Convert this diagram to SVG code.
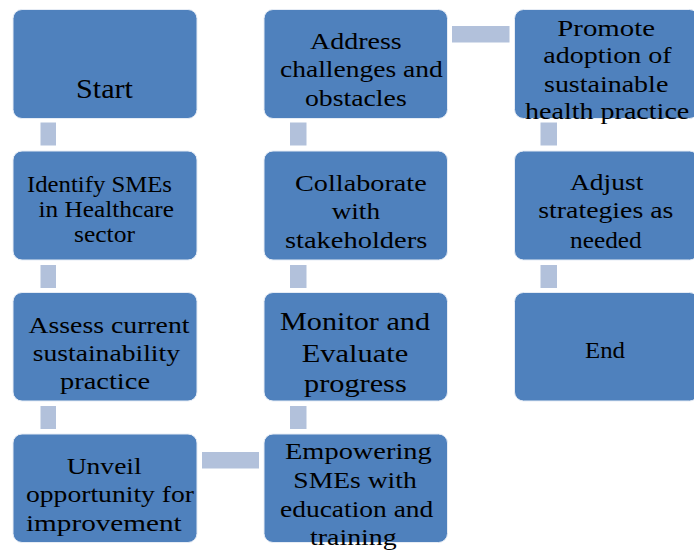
<svg xmlns="http://www.w3.org/2000/svg" width="694" height="554" viewBox="0 0 694 554">
<style>
.box{fill:#4F81BD;stroke:#E6ECF5;stroke-width:1}
.con{fill:#B2C1DB}
text{font-family:"Liberation Serif","Times New Roman",serif;font-size:24px;fill:#000}
</style>
<rect width="694" height="554" fill="#fff"/>
<g id="connectors">
<rect class="con" x="40.5" y="122.5" width="15.5" height="23"/>
<rect class="con" x="40.5" y="265" width="15.5" height="23"/>
<rect class="con" x="40.5" y="406" width="15.5" height="23"/>
<rect class="con" x="202" y="452" width="57" height="16.5"/>
<rect class="con" x="290" y="406" width="16.5" height="23"/>
<rect class="con" x="290" y="265" width="16.5" height="23"/>
<rect class="con" x="290" y="122.5" width="16.5" height="23"/>
<rect class="con" x="452" y="26" width="57.5" height="16.5"/>
<rect class="con" x="540.5" y="122.5" width="16.5" height="23"/>
<rect class="con" x="540.5" y="265" width="16.5" height="23"/>
</g>
<g id="n1"><rect class="box" x="13" y="9.5" width="184" height="109" rx="9"/>
<text x="76" y="97.5" style="font-size:27px" textLength="57" lengthAdjust="spacingAndGlyphs">Start</text></g>
<g id="n2"><rect class="box" x="13" y="151" width="184" height="109" rx="9"/>
<text x="27" y="191.7" textLength="145" lengthAdjust="spacingAndGlyphs">Identify SMEs</text>
<text x="38.5" y="216.7" textLength="135.5" lengthAdjust="spacingAndGlyphs">in Healthcare</text>
<text x="74" y="242" textLength="61" lengthAdjust="spacingAndGlyphs">sector</text></g>
<g id="n3"><rect class="box" x="13" y="292.5" width="184" height="108.5" rx="9"/>
<text x="28.5" y="333.3" textLength="161" lengthAdjust="spacingAndGlyphs">Assess current</text>
<text x="32.7" y="360.7" textLength="147.3" lengthAdjust="spacingAndGlyphs">sustainability</text>
<text x="60" y="389" textLength="90" lengthAdjust="spacingAndGlyphs">practice</text></g>
<g id="n4"><rect class="box" x="13" y="434" width="184" height="108.5" rx="9"/>
<text x="66.7" y="474" textLength="75" lengthAdjust="spacingAndGlyphs">Unveil</text>
<text x="26" y="502.3" textLength="168" lengthAdjust="spacingAndGlyphs">opportunity for</text>
<text x="26" y="530.7" textLength="155.7" lengthAdjust="spacingAndGlyphs">improvement</text></g>
<g id="n5"><rect class="box" x="264" y="434" width="183.5" height="108.5" rx="9"/>
<text x="285" y="459.3" textLength="146.7" lengthAdjust="spacingAndGlyphs">Empowering</text>
<text x="293.3" y="488.3" textLength="123.4" lengthAdjust="spacingAndGlyphs">SMEs with</text>
<text x="280" y="517.3" textLength="153.3" lengthAdjust="spacingAndGlyphs">education and</text>
<text x="310" y="545" textLength="86.7" lengthAdjust="spacingAndGlyphs">training</text></g>
<g id="n6"><rect class="box" x="264" y="292.5" width="183.5" height="108.5" rx="9"/>
<text x="280" y="330" style="font-size:25.5px" textLength="150" lengthAdjust="spacingAndGlyphs">Monitor and</text>
<text x="301.7" y="361.7" style="font-size:25.5px" textLength="106.6" lengthAdjust="spacingAndGlyphs">Evaluate</text>
<text x="304" y="391.7" style="font-size:25.5px" textLength="102.7" lengthAdjust="spacingAndGlyphs">progress</text></g>
<g id="n7"><rect class="box" x="264" y="151" width="183.5" height="109" rx="9"/>
<text x="295" y="190.7" textLength="131.7" lengthAdjust="spacingAndGlyphs">Collaborate</text>
<text x="331.7" y="219" textLength="48.3" lengthAdjust="spacingAndGlyphs">with</text>
<text x="285" y="248.3" textLength="142.3" lengthAdjust="spacingAndGlyphs">stakeholders</text></g>
<g id="n8"><rect class="box" x="264" y="9.5" width="183.5" height="109" rx="9"/>
<text x="310" y="49.3" textLength="91.7" lengthAdjust="spacingAndGlyphs">Address</text>
<text x="280" y="77.3" textLength="162.7" lengthAdjust="spacingAndGlyphs">challenges and</text>
<text x="305" y="106" textLength="101.7" lengthAdjust="spacingAndGlyphs">obstacles</text></g>
<g id="n9"><rect class="box" x="514.5" y="9.5" width="184" height="109" rx="9"/>
<text x="557.3" y="35.7" textLength="97.7" lengthAdjust="spacingAndGlyphs">Promote</text>
<text x="543.3" y="63.3" textLength="128.4" lengthAdjust="spacingAndGlyphs">adoption of</text>
<text x="544" y="91.7" textLength="124.3" lengthAdjust="spacingAndGlyphs">sustainable</text>
<text x="525" y="119" textLength="164.3" lengthAdjust="spacingAndGlyphs">health practice</text></g>
<g id="n10"><rect class="box" x="514.5" y="151" width="184" height="109" rx="9"/>
<text x="570" y="190" textLength="73.3" lengthAdjust="spacingAndGlyphs">Adjust</text>
<text x="538.3" y="218.3" textLength="135" lengthAdjust="spacingAndGlyphs">strategies as</text>
<text x="570" y="248.3" textLength="71.7" lengthAdjust="spacingAndGlyphs">needed</text></g>
<g id="n11"><rect class="box" x="514.5" y="292.5" width="184" height="108.5" rx="9"/>
<text x="585" y="358.3" textLength="40" lengthAdjust="spacingAndGlyphs">End</text></g>
</svg>
